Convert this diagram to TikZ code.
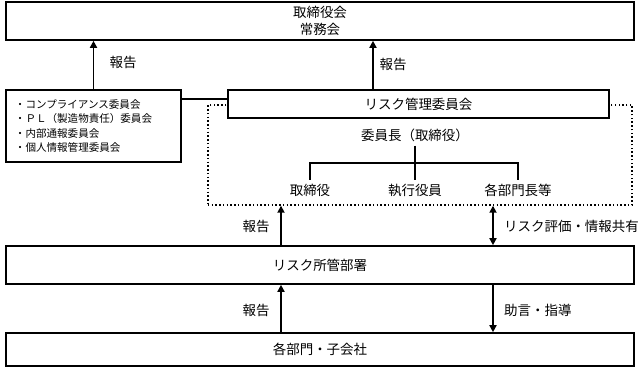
\documentclass[tikz,border=0pt]{standalone}
\usepackage{fontspec}
\setmainfont{Noto Sans CJK JP}
\usetikzlibrary{arrows.meta}
\definecolor{FigureInk}{HTML}{000000}

\begin{document}
\begin{tikzpicture}[
  x=0.03cm,y=-0.03cm,
  font=\fontsize{11.5}{15}\selectfont,
  text=FigureInk,
  box/.style={draw=FigureInk,line width=1.4pt,fill=white,align=center,inner sep=0pt},
  widebox/.style={box,minimum width=18.84cm},
  flow/.style={draw=FigureInk,line width=1.4pt,-{Triangle[length=6pt,width=6pt]}},
  twoway/.style={flow,{Triangle[length=6pt,width=6pt]}-{Triangle[length=6pt,width=6pt]}},
  tie/.style={draw=FigureInk,line width=1.4pt},
]
  \useasboundingbox (0,0) rectangle (639,370);

  \node[widebox,minimum height=1.14cm] (board) at (320,21)
    {取締役会\\常務会};

  \node[box,minimum width=5.25cm,minimum height=2.16cm,inner xsep=0.27cm,
        text width=4.71cm,align=left,font=\fontsize{9}{12}\selectfont] (cmt) at (93.5,126)
    {・コンプライアンス委員会\\・ＰＬ（製造物責任）委員会\\・内部通報委員会\\・個人情報管理委員会};

  \node[draw=FigureInk,line width=1.2pt,dotted,minimum width=12.72cm,minimum height=3.0cm] (grp) at (420,155) {};
  \node[box,minimum width=11.43cm,minimum height=0.84cm] (risk) at (418.5,104) {リスク管理委員会};

  \node (chair) at (415,135) {委員長（取締役）};
  \node (m1) at (310,190) {取締役};
  \node (m2) at (415,190) {執行役員};
  \node (m3) at (518,190) {各部門長等};
  \coordinate (fork) at (415,163);

  \node[widebox,minimum height=1.14cm] (dept) at (320,265) {リスク所管部署};
  \node[widebox,minimum height=0.99cm] (unit) at (320,349.5) {各部門・子会社};

  \coordinate (colA) at (373,0);
  \coordinate (colB) at (281,0);
  \coordinate (colC) at (493,0);
  \coordinate (riskin) at ([yshift=0.15cm]risk.west);

  \draw[flow] (cmt.north) -- (cmt.north |- board.south);
  \draw[flow] (risk.north -| colA) -- (board.south -| colA);
  \draw[tie] (cmt.east |- riskin) -- (riskin);

  \draw[tie] (chair.south) -- (fork);
  \draw[tie] (m1.north) |- (m3.north |- fork) -- (m3.north);
  \draw[tie] (fork) -- (m2.north);

  \draw[flow] (dept.north -| colB) -- (grp.south -| colB);
  \draw[twoway] (dept.north -| colC) -- (grp.south -| colC);
  \draw[flow] (unit.north -| colB) -- (dept.south -| colB);
  \draw[flow] (dept.south -| colC) -- (unit.north -| colC);

  \node (rep1) at (123,62) {報告};
  \node (rep2) at (393,64) {報告};
  \node (rep3) at (256,226) {報告};
  \node (rep4) at (256,310) {報告};
  \node[anchor=west] (share) at (500,226) {リスク評価・情報共有};
  \node[anchor=west] (advice) at (500,310) {助言・指導};
\end{tikzpicture}
\end{document}
